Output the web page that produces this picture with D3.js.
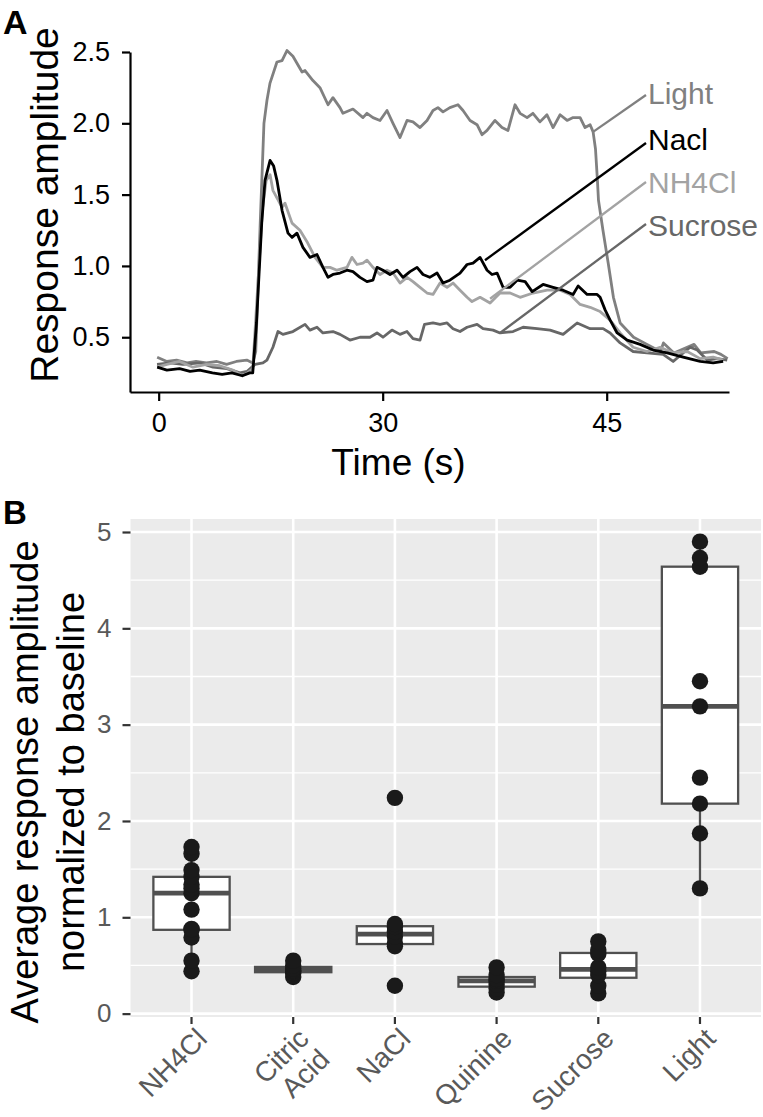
<!DOCTYPE html>
<html><head><meta charset="utf-8">
<script src="https://cdn.jsdelivr.net/npm/d3@7"></script>
<style>body{margin:0;background:#fff}svg{display:block}text{font-family:"Liberation Sans",Arial,Helvetica,sans-serif}</style>
</head><body><svg id="c" width="763" height="1117"></svg>
<script>
// ---------- Panel A data ----------
const timeTicks = [15, 30, 45];
const timeTickLabels = ["0", "30", "45"];
const ampTicks = [0.5, 1.0, 1.5, 2.0, 2.5];
const seriesNames = ["Light", "Nacl", "NH4Cl", "Sucrose"];

const lightSeries = [[14.9,0.36],[15.55,0.33],[16.2,0.34],[16.9,0.32],[17.5,0.33],[18.2,0.32],[18.9,0.33],[19.55,0.31],[20.2,0.33],[20.9,0.34],[21.3,0.32],[21.5,0.40],[21.8,1.30],[22.05,2.00],[22.25,2.16],[22.45,2.28],[22.92,2.43],[23.26,2.44],[23.59,2.51],[23.99,2.47],[24.6,2.36],[24.8,2.37],[25.33,2.30],[25.8,2.25],[26.34,2.13],[26.67,2.18],[27.14,2.11],[27.34,2.07],[28.01,2.10],[28.68,2.04],[28.95,2.07],[29.35,2.04],[29.82,2.02],[30.29,2.09],[30.69,2.00],[31.16,1.90],[31.63,2.02],[32.03,2.01],[32.5,1.97],[32.97,2.02],[33.37,2.09],[33.7,2.11],[34.04,2.08],[34.5,2.11],[35.04,2.13],[35.38,2.09],[35.85,2.02],[36.32,1.99],[36.65,1.92],[36.99,1.95],[37.52,2.02],[37.99,1.97],[38.39,1.95],[38.86,2.13],[39.2,2.07],[39.67,2.04],[40.06,2.07],[40.53,2.01],[41.0,2.06],[41.41,1.97],[41.88,2.06],[42.35,2.02],[42.75,2.04],[43.22,2.04],[43.55,1.97],[43.89,1.99],[44.09,1.94],[44.25,1.82],[44.38,1.60],[44.45,1.46],[44.75,1.25],[45.1,1.02],[45.45,0.78],[45.9,0.60],[46.8,0.50],[47.7,0.45],[48.6,0.40],[48.8,0.46],[49.5,0.39],[50.85,0.45],[51.3,0.39],[52.2,0.40],[52.65,0.38],[53.1,0.35]];

const naclSeries = [[14.9,0.29],[15.55,0.27],[16.4,0.28],[17.1,0.26],[17.75,0.27],[18.6,0.25],[19.25,0.24],[19.9,0.25],[20.6,0.23],[21.1,0.25],[21.3,0.25],[21.55,0.60],[21.9,1.30],[22.12,1.60],[22.46,1.74],[22.7,1.70],[22.92,1.60],[23.26,1.39],[23.66,1.23],[23.93,1.20],[24.26,1.23],[24.66,1.13],[25.13,1.06],[25.6,1.08],[26.0,0.99],[26.34,0.92],[26.67,0.94],[27.14,0.95],[27.61,0.97],[28.01,0.96],[28.48,0.92],[28.95,0.89],[29.35,0.90],[29.62,0.99],[30.02,0.97],[30.49,0.94],[30.96,0.97],[31.36,0.92],[31.83,0.96],[32.3,0.99],[32.7,0.94],[33.15,0.92],[33.64,0.95],[34.04,0.88],[34.5,0.90],[35.18,0.95],[35.65,1.01],[36.05,1.02],[36.52,1.06],[36.99,0.97],[37.32,0.94],[37.66,0.95],[38.06,0.85],[38.53,0.85],[39.0,0.90],[39.54,0.89],[40.01,0.82],[40.74,0.87],[41.41,0.85],[42.08,0.83],[42.75,0.80],[43.09,0.86],[43.69,0.80],[44.36,0.80],[44.56,0.78],[44.9,0.69],[45.23,0.62],[45.7,0.53],[46.37,0.48],[47.24,0.45],[48.11,0.41],[49.05,0.39],[50.12,0.36],[51.26,0.33],[52.13,0.32],[52.8,0.33]];

const nh4clSeries = [[14.9,0.29],[15.55,0.31],[16.4,0.33],[17.3,0.29],[18.2,0.31],[19.1,0.30],[19.95,0.27],[20.6,0.23],[20.95,0.25],[21.3,0.28],[21.6,0.80],[21.95,1.40],[22.2,1.60],[22.46,1.64],[22.65,1.53],[23.26,1.41],[23.46,1.44],[23.93,1.30],[24.46,1.25],[24.93,1.17],[25.47,1.06],[26.0,0.99],[26.47,0.99],[26.94,0.97],[27.61,0.99],[27.94,1.06],[28.28,1.01],[28.68,1.02],[28.95,1.04],[29.35,0.99],[29.82,0.94],[30.29,0.97],[30.69,0.95],[31.16,0.88],[31.63,0.92],[32.03,0.89],[32.5,0.85],[32.97,0.81],[33.37,0.80],[33.84,0.88],[34.31,0.85],[34.71,0.88],[35.18,0.83],[35.65,0.78],[35.98,0.75],[36.52,0.78],[37.19,0.74],[37.86,0.81],[38.53,0.81],[39.2,0.78],[40.07,0.81],[41.01,0.83],[41.88,0.83],[42.55,0.80],[43.22,0.73],[43.89,0.71],[44.56,0.68],[45.23,0.62],[45.9,0.53],[46.77,0.43],[47.7,0.40],[48.58,0.43],[49.45,0.39],[50.39,0.40],[51.26,0.35],[52.13,0.36],[52.8,0.34]];

const sucroseSeries = [[14.89,0.31],[15.76,0.32],[16.63,0.31],[17.77,0.32],[18.64,0.29],[19.57,0.28],[20.44,0.25],[20.91,0.26],[21.45,0.31],[21.98,0.32],[22.25,0.34],[22.65,0.43],[22.99,0.54],[23.32,0.52],[23.99,0.54],[24.8,0.59],[25.13,0.55],[25.6,0.57],[26.0,0.53],[26.67,0.54],[27.14,0.52],[27.81,0.48],[28.48,0.50],[29.15,0.50],[29.62,0.53],[30.02,0.50],[30.62,0.55],[31.16,0.52],[31.63,0.54],[32.03,0.49],[32.5,0.48],[32.8,0.59],[33.37,0.60],[33.84,0.59],[34.31,0.60],[34.71,0.56],[35.18,0.54],[35.65,0.57],[36.32,0.59],[36.72,0.56],[37.39,0.55],[37.86,0.53],[38.73,0.54],[39.4,0.57],[40.34,0.56],[41.21,0.55],[42.08,0.52],[43.02,0.60],[43.89,0.56],[44.76,0.56],[45.23,0.53],[45.9,0.46],[46.77,0.40],[47.7,0.39],[48.78,0.38],[49.45,0.33],[50.12,0.39],[50.59,0.43],[51.06,0.41],[51.73,0.34],[52.4,0.35],[53.07,0.34]];

// where each series' label leader line starts (time, amplitude)
const leaderStarts = [[44.09,1.94],[36.85,1.04],[37.19,0.77],[37.86,0.53]];

// ---------- Panel B data ----------
const categories = ["NH4Cl", "Citric\nAcid", "NaCl", "Quinine", "Sucrose", "Light"];
const nh4clValues = [0.44,0.55,0.79,0.87,0.88,1.08,1.25,1.30,1.34,1.42,1.49,1.66,1.73];
const citricValues = [0.38,0.42,0.44,0.45,0.47,0.50,0.55];
const naclValues = [0.29,0.70,0.73,0.80,0.85,0.90,0.93,2.24];
const quinineValues = [0.22,0.26,0.30,0.34,0.36,0.40,0.48];
const sucroseValues = [0.21,0.29,0.40,0.44,0.48,0.62,0.66,0.75];
const lightValues = [1.30,1.87,2.18,2.45,3.19,3.45,4.64,4.73,4.90];
const normTicks = [0, 1, 2, 3, 4, 5];
const normMinorTicks = [0.5, 1.5, 2.5, 3.5, 4.5];

// ---------- drawing ----------
const svg = d3.select("#c");
const FONT = '"Liberation Sans",Arial,Helvetica,sans-serif';

// ===== Panel A =====
const xA = d3.scaleLinear().domain([13.08, 53.19]).range([130, 729]);
const yA = d3.scaleLinear().domain([0.116, 2.5]).range([392, 52]);
const seriesData = [lightSeries, naclSeries, nh4clSeries, sucroseSeries];
const seriesColors = ["#808080", "#000000", "#a3a3a3", "#676767"];
const drawOrder = [0, 3, 2, 1];
const lineGen = d3.line().x(d => xA(d[0])).y(d => yA(d[1]));

const gA = svg.append("g");
drawOrder.forEach(i => {
  gA.append("path").attr("d", lineGen(seriesData[i]))
    .attr("fill", "none").attr("stroke", seriesColors[i])
    .attr("stroke-width", 2.8).attr("stroke-linejoin", "round");
});

// labels with leader lines
const labelX = 648;
const labelBaselines = [104, 150, 193, 236];
const leaderEndY = [95, 143, 182, 224];
seriesNames.forEach((name, i) => {
  gA.append("line")
    .attr("x1", xA(leaderStarts[i][0])).attr("y1", yA(leaderStarts[i][1]))
    .attr("x2", labelX - 2).attr("y2", leaderEndY[i])
    .attr("stroke", seriesColors[i]).attr("stroke-width", 2.3);
  gA.append("text").attr("x", labelX).attr("y", labelBaselines[i])
    .attr("font-size", 30).attr("fill", seriesColors[i]).text(name);
});

const axA_x = gA.append("g").attr("transform", "translate(0,392)")
  .call(d3.axisBottom(xA).tickValues(timeTicks).tickFormat((d, i) => timeTickLabels[i])
    .tickSize(9).tickSizeOuter(0).tickPadding(12));
const axA_y = gA.append("g").attr("transform", "translate(130,0)")
  .call(d3.axisLeft(yA).tickValues(ampTicks).tickFormat(d3.format(".1f"))
    .tickSize(8).tickSizeOuter(0).tickPadding(12));
[axA_x, axA_y].forEach(a => {
  a.selectAll("path,line").attr("stroke", "#000").attr("stroke-width", 2.2);
  a.selectAll("text").attr("font-size", 27).attr("fill", "#000").attr("font-family", FONT);
});

gA.append("text").attr("x", 398.5).attr("y", 475).attr("text-anchor", "middle")
  .attr("font-size", 37).attr("fill", "#000").text("Time (s)");
gA.append("text").attr("transform", "translate(58,205) rotate(-90)")
  .attr("text-anchor", "middle").attr("font-size", 39).attr("fill", "#000")
  .text("Response amplitude");
svg.append("text").attr("x", 3).attr("y", 34).attr("font-size", 34)
  .attr("font-weight", "bold").attr("fill", "#000").text("A");

// ===== Panel B =====
const yB = d3.scaleLinear().domain([-0.035, 5.135]).range([1017, 519]);
const xB = d3.scaleBand().domain(categories).range([130.5, 761]).paddingInner(0).paddingOuter(0.1);
const cx = c => xB(c) + xB.bandwidth() / 2;
const groupValues = [nh4clValues, citricValues, naclValues, quinineValues, sucroseValues, lightValues];

const gB = svg.append("g");
gB.append("rect").attr("x", 130.5).attr("y", 519).attr("width", 761 - 130.5).attr("height", 1017 - 519)
  .attr("fill", "#ebebeb");
normMinorTicks.forEach(t => gB.append("line").attr("x1", 130.5).attr("x2", 761)
  .attr("y1", yB(t)).attr("y2", yB(t)).attr("stroke", "#fff").attr("stroke-width", 1.3));
normTicks.forEach(t => gB.append("line").attr("x1", 130.5).attr("x2", 761)
  .attr("y1", yB(t)).attr("y2", yB(t)).attr("stroke", "#fff").attr("stroke-width", 2.6));
categories.forEach(c => gB.append("line").attr("x1", cx(c)).attr("x2", cx(c))
  .attr("y1", 519).attr("y2", 1017).attr("stroke", "#fff").attr("stroke-width", 2.6));

const boxColor = "#505050";
categories.forEach((c, i) => {
  const vals = groupValues[i].slice().sort(d3.ascending);
  const q1 = d3.quantile(vals, 0.25), med = d3.quantile(vals, 0.5), q3 = d3.quantile(vals, 0.75);
  const iqr = q3 - q1;
  const lo = d3.min(vals.filter(v => v >= q1 - 1.5 * iqr));
  const hi = d3.max(vals.filter(v => v <= q3 + 1.5 * iqr));
  const x = cx(c), hw = xB.bandwidth() * 0.375;
  gB.append("line").attr("x1", x).attr("x2", x).attr("y1", yB(lo)).attr("y2", yB(q1))
    .attr("stroke", boxColor).attr("stroke-width", 2.3);
  gB.append("line").attr("x1", x).attr("x2", x).attr("y1", yB(q3)).attr("y2", yB(hi))
    .attr("stroke", boxColor).attr("stroke-width", 2.3);
  gB.append("rect").attr("x", x - hw).attr("width", 2 * hw)
    .attr("y", yB(q3)).attr("height", yB(q1) - yB(q3))
    .attr("fill", "#fff").attr("stroke", boxColor).attr("stroke-width", 2.3);
  gB.append("line").attr("x1", x - hw).attr("x2", x + hw).attr("y1", yB(med)).attr("y2", yB(med))
    .attr("stroke", boxColor).attr("stroke-width", 4.8);
  gB.selectAll(null).data(vals).enter().append("circle")
    .attr("cx", x).attr("cy", d => yB(d)).attr("r", 8.2).attr("fill", "#1a1a1a");
});

// axes B
const axB_y = gB.append("g").attr("transform", "translate(130.5,0)")
  .call(d3.axisLeft(yB).tickValues(normTicks).tickFormat(d3.format("d")).tickSize(8).tickPadding(11));
axB_y.select(".domain").remove();
axB_y.selectAll("line").attr("stroke", "#333").attr("stroke-width", 2.2);
axB_y.selectAll("text").attr("font-size", 26).attr("fill", "#595959").attr("font-family", FONT);

const axB_x = gB.append("g").attr("transform", "translate(0,1017)")
  .call(d3.axisBottom(xB).tickSize(7).tickFormat(""));
axB_x.select(".domain").remove();
axB_x.selectAll("line").attr("stroke", "#333").attr("stroke-width", 2.2);

categories.forEach(c => {
  const t = gB.append("text").attr("transform", `translate(${cx(c) + 3},1026) rotate(-45)`)
    .attr("text-anchor", "end").attr("font-size", 28).attr("fill", "#595959");
  c.split("\n").forEach((line, j) => {
    t.append("tspan").attr("x", 0).attr("dy", j === 0 ? "0.72em" : "1.05em").text(line);
  });
});

const yt = gB.append("text").attr("transform", "translate(38,782) rotate(-90)")
  .attr("text-anchor", "middle").attr("font-size", 38).attr("fill", "#000");
yt.append("tspan").attr("x", 0).attr("y", 0).text("Average response amplitude");
yt.append("tspan").attr("x", 0).attr("y", 46).text("normalized to baseline");

svg.append("text").attr("x", 3).attr("y", 524).attr("font-size", 33)
  .attr("font-weight", "bold").attr("fill", "#000").text("B");
</script></body></html>
